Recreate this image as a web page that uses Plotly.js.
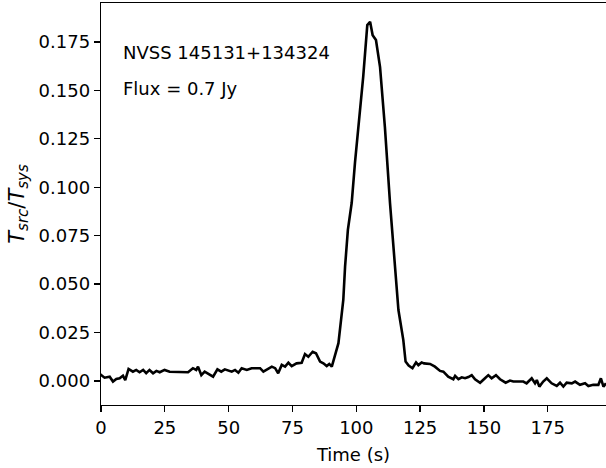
<!DOCTYPE html>
<html>
<head>
<meta charset="utf-8">
<script src="https://cdn.plot.ly/plotly-3.0.1.min.js"></script>
<style>html,body{margin:0;padding:0;background:#fff;}#chart{width:606px;height:468px;}</style>
</head>
<body>
<div id="chart"></div>
<script>
// Time (s)
const timeS = [0, 0.1, 1.4, 3.4, 4.7, 6.0, 7.3, 8.6, 9.5, 10.8, 12.5, 13.8, 15.1, 16.5, 17.7, 19.0, 20.4, 21.7, 23.0, 24.9, 26.9, 30.2, 34.1, 36.0, 37.3, 38.0, 39.3, 40.6, 42.6, 43.9, 45.6, 47.1, 48.5, 49.2, 51.2, 52.5, 53.8, 55.1, 57.1, 59.0, 62.3, 63.6, 66.9, 68.2, 69.4, 70.8, 72.1, 73.4, 74.7, 76.6, 78.6, 79.9, 81.2, 82.9, 84.2, 85.8, 87.1, 88.4, 89.4, 90.4, 91.7, 93.0, 94.9, 95.6, 96.7, 98.2, 99.5, 101.2, 102.7, 104.3, 105.4, 106.4, 107.7, 109.3, 111.2, 113.2, 115.2, 116.5, 118.4, 119.3, 120.5, 122.0, 123.4, 124.3, 125.6, 126.5, 128.9, 130.8, 132.8, 134.1, 136.0, 138.0, 138.7, 140.0, 141.3, 142.6, 143.9, 145.2, 146.5, 148.5, 150.4, 151.7, 153.0, 154.7, 156.3, 158.5, 160.2, 161.5, 163.5, 165.4, 166.7, 168.7, 170.0, 170.7, 171.7, 173.2, 174.6, 176.5, 178.5, 179.8, 181.1, 182.4, 184.4, 185.7, 187.6, 189.6, 190.9, 192.8, 194.8, 195.8, 196.8, 197.8];
// T_src / T_sys
const ratio = [0.0022, 0.0030, 0.0017, 0.0022, -0.0003, 0.0010, 0.0014, 0.0027, 0.0005, 0.0062, 0.0048, 0.0057, 0.0045, 0.0057, 0.0040, 0.0057, 0.0040, 0.0052, 0.0045, 0.0057, 0.0048, 0.0045, 0.0045, 0.0066, 0.0057, 0.0074, 0.0030, 0.0048, 0.0030, 0.0022, 0.0060, 0.0048, 0.0060, 0.0057, 0.0048, 0.0057, 0.0043, 0.0066, 0.0057, 0.0066, 0.0066, 0.0048, 0.0074, 0.0066, 0.0040, 0.0083, 0.0074, 0.0094, 0.0077, 0.0091, 0.0094, 0.0139, 0.0125, 0.0151, 0.0143, 0.0100, 0.0091, 0.0077, 0.0088, 0.0074, 0.0134, 0.0195, 0.0418, 0.0590, 0.0780, 0.0920, 0.1130, 0.1347, 0.1570, 0.1837, 0.1854, 0.1785, 0.1760, 0.1620, 0.1310, 0.0918, 0.0590, 0.0366, 0.0212, 0.0100, 0.0080, 0.0066, 0.0096, 0.0082, 0.0096, 0.0091, 0.0088, 0.0074, 0.0052, 0.0048, 0.0022, 0.0009, 0.0026, 0.0009, 0.0019, 0.0014, 0.0020, 0.0030, 0.0009, -0.0009, 0.0014, 0.0030, 0.0014, 0.0030, 0.0009, -0.0009, 0.0002, -0.0003, -0.0003, -0.0003, -0.0012, 0.0014, -0.0012, 0.0005, -0.0029, -0.0003, 0.0014, -0.0012, -0.0026, -0.0009, -0.0029, -0.0009, -0.0012, -0.0003, -0.0020, -0.0012, -0.0026, -0.0020, -0.0020, 0.0014, -0.0029, -0.0012];
const yTickVals = [0, 0.025, 0.05, 0.075, 0.1, 0.125, 0.15, 0.175];
const yTickText = ["0.000", "0.025", "0.050", "0.075", "0.100", "0.125", "0.150", "0.175"];
const xTickVals = [0, 25, 50, 75, 100, 125, 150, 175];
const sourceName = "NVSS 145131+134324";
const fluxLabel = "Flux = 0.7 Jy";

const font = {family: "DejaVu Sans, sans-serif", size: 18, color: "#000"};

const trace = {
  x: timeS, y: ratio, type: "scatter", mode: "lines",
  line: {color: "#000", width: 2.6},
  hoverinfo: "skip", showlegend: false
};

const layout = {
  width: 606, height: 468,
  margin: {l: 101, r: 0, t: 3, b: 63, pad: 0},
  paper_bgcolor: "#fff", plot_bgcolor: "#fff",
  font: font,
  showlegend: false,
  xaxis: {
    range: [0, 197.8], tickvals: xTickVals, ticktext: xTickVals.map(String),
    ticks: "outside", ticklen: 6, tickwidth: 1.3, tickcolor: "#000",
    showline: true, linecolor: "#000", linewidth: 1.3, mirror: true,
    showgrid: false, zeroline: false, tickfont: font,
    title: {text: "Time (s)", font: font, standoff: 11}
  },
  yaxis: {
    range: [-0.0124, 0.1951], tickvals: yTickVals, ticktext: yTickText,
    ticks: "outside", ticklen: 6, tickwidth: 1.3, tickcolor: "#000",
    showline: true, linecolor: "#000", linewidth: 1.3, mirror: false,
    showgrid: false, zeroline: false, tickfont: font,
    title: {text: "<i>T</i><sub><span style=\"font-size:15px\"><i>src</i></span></sub>/<i>T</i><sub><span style=\"font-size:15px\"><i>sys</i></span></sub>", font: {family: "DejaVu Sans, sans-serif", size: 21, color: "#000"}, standoff: 8}
  },
  annotations: [
    {x: 8.0, y: 0.1698, xref: "x", yref: "y", text: sourceName, showarrow: false, xanchor: "left", yanchor: "middle", font: font},
    {x: 8.0, y: 0.1512, xref: "x", yref: "y", text: fluxLabel, showarrow: false, xanchor: "left", yanchor: "middle", font: font}
  ]
};

Plotly.newPlot("chart", [trace], layout, {displayModeBar: false, staticPlot: true});
</script>
</body>
</html>
